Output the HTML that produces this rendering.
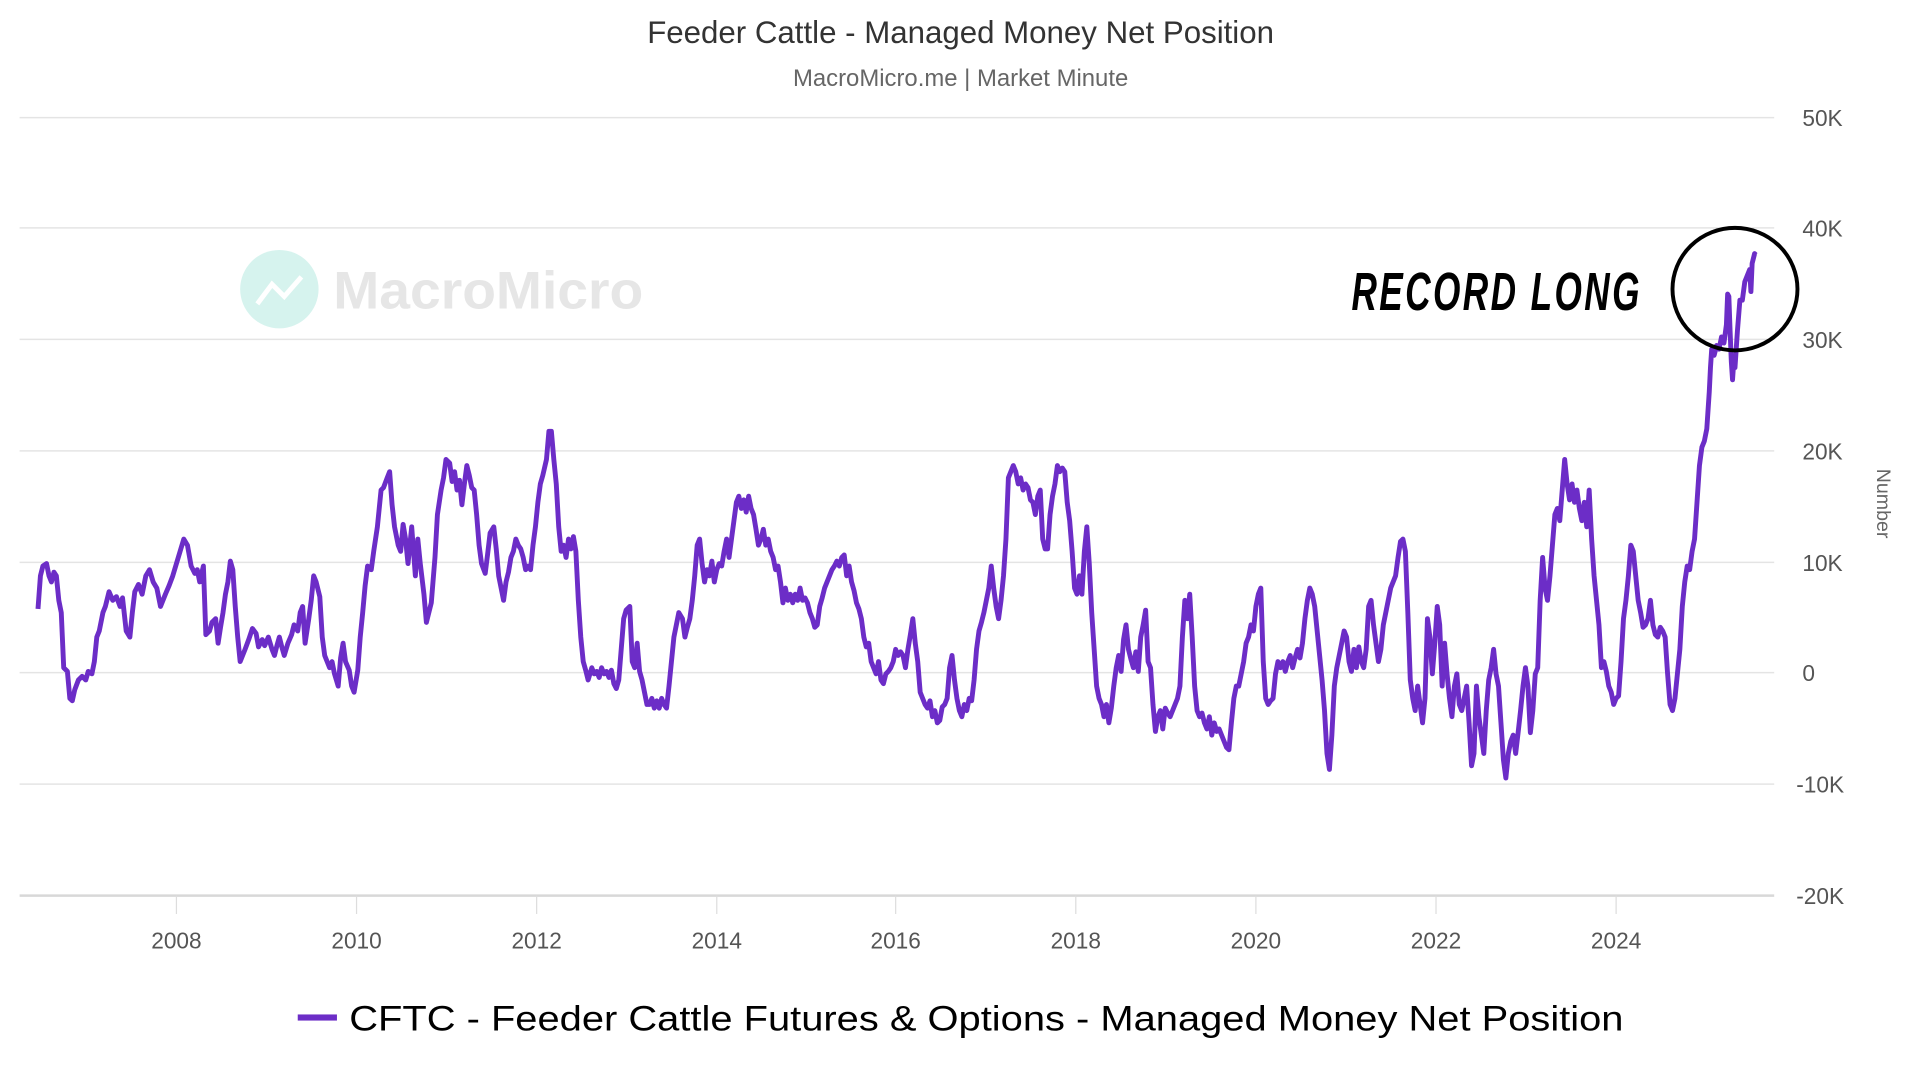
<!DOCTYPE html>
<html><head><meta charset="utf-8"><style>
html,body{margin:0;padding:0;background:#fff;}
svg{display:block;}
</style></head><body>
<svg width="1920" height="1080" viewBox="0 0 1567 881.5" preserveAspectRatio="none" xmlns="http://www.w3.org/2000/svg" font-family="Liberation Sans, sans-serif">
<text x="784" y="35" text-anchor="middle" font-size="25.5" fill="#333">Feeder Cattle - Managed Money Net Position</text>
<text x="784" y="70" text-anchor="middle" font-size="19.5" fill="#666">MacroMicro.me | Market Minute</text>
<g stroke="#e4e4e4" stroke-width="1.3">
<line x1="16" x2="1448" y1="96" y2="96"/><line x1="16" x2="1448" y1="186" y2="186"/>
<line x1="16" x2="1448" y1="277" y2="277"/><line x1="16" x2="1448" y1="368" y2="368"/>
<line x1="16" x2="1448" y1="459" y2="459"/><line x1="16" x2="1448" y1="549" y2="549"/>
<line x1="16" x2="1448" y1="640" y2="640"/>
</g>
<line x1="16" x2="1448" y1="731" y2="731" stroke="#d8d8d8" stroke-width="2"/>
<g stroke="#ddd" stroke-width="1">
<line x1="144" x2="144" y1="731" y2="746"/><line x1="291" x2="291" y1="731" y2="746"/><line x1="438" x2="438" y1="731" y2="746"/><line x1="585" x2="585" y1="731" y2="746"/><line x1="731" x2="731" y1="731" y2="746"/><line x1="878" x2="878" y1="731" y2="746"/><line x1="1025" x2="1025" y1="731" y2="746"/><line x1="1172" x2="1172" y1="731" y2="746"/><line x1="1319" x2="1319" y1="731" y2="746"/>
</g>
<g font-size="18.5" fill="#555" text-anchor="middle">
<text x="144" y="774">2008</text><text x="291" y="774">2010</text><text x="438" y="774">2012</text><text x="585" y="774">2014</text><text x="731" y="774">2016</text><text x="878" y="774">2018</text><text x="1025" y="774">2020</text><text x="1172" y="774">2022</text><text x="1319" y="774">2024</text>
</g>
<g font-size="18.5" fill="#555">
<text x="1471" y="103">50K</text><text x="1471" y="193">40K</text><text x="1471" y="284">30K</text><text x="1471" y="375">20K</text><text x="1471" y="466">10K</text><text x="1471" y="556">0</text><text x="1466" y="647">-10K</text><text x="1466" y="738">-20K</text>
</g>
<text transform="translate(1532,411) rotate(90)" text-anchor="middle" font-size="16" fill="#666">Number</text>
<circle cx="228" cy="236" r="32" fill="#d6f3ee"/>
<polyline points="210,248 222,232 232,242 246,226" fill="none" stroke="#fff" stroke-width="4"/>
<text x="272" y="252" font-size="43" font-weight="bold" fill="#e6e6e6" textLength="253" lengthAdjust="spacingAndGlyphs">MacroMicro</text>
<polyline fill="none" stroke="#6c2dc7" stroke-width="4" stroke-linejoin="round" points="31,497 33,470 35,462 38,460 40,470 42,475 44,467 46,470 48,490 50,500 52,545 55,548 57,570 59,572 61,563 64,555 67,552 70,555 72,548 75,550 77,540 79,520 81,515 84,500 86,495 89,483 92,490 95,487 98,495 100,488 103,515 106,520 108,500 110,483 113,477 116,485 119,470 122,465 125,475 128,480 131,495 133,490 135,485 138,478 141,470 144,460 147,450 150,440 153,445 156,462 159,468 161,465 163,475 166,462 168,518 171,515 173,508 176,505 178,525 180,512 182,500 184,485 186,475 188,458 190,465 192,495 194,520 196,540 198,535 200,530 203,522 206,513 209,517 211,528 214,522 216,527 219,520 222,530 224,535 226,527 228,520 230,528 232,535 235,525 238,518 240,510 243,515 245,500 247,495 249,525 252,505 254,490 256,470 258,475 261,487 263,520 265,535 267,540 269,545 271,540 273,550 276,560 278,537 280,525 282,540 285,547 287,560 289,565 292,547 294,520 296,500 298,478 300,462 303,465 305,450 308,430 311,400 313,398 316,390 318,385 320,412 322,430 325,445 327,450 329,428 331,440 333,460 336,430 339,470 341,440 343,460 346,485 348,508 350,500 352,492 355,455 357,420 360,400 362,390 364,375 367,378 369,393 371,385 373,400 375,392 377,412 379,395 381,380 383,388 385,398 387,400 389,420 391,445 393,460 396,468 398,452 400,435 403,430 405,448 407,470 409,480 411,490 413,475 415,467 417,455 419,450 421,440 423,445 425,448 427,455 429,465 431,462 433,465 435,445 437,430 439,410 441,395 443,388 446,375 448,352 450,352 452,375 454,395 456,430 458,450 460,445 462,455 464,440 466,448 468,438 470,450 472,490 474,520 476,540 478,547 480,555 483,545 485,550 487,548 489,553 491,545 493,550 495,548 497,553 499,547 501,558 503,562 505,555 507,530 509,505 511,498 514,495 516,540 518,545 520,525 522,548 524,555 526,565 528,575 530,575 532,570 534,578 536,572 538,578 540,570 542,575 544,578 546,560 548,540 550,520 552,510 554,500 557,505 559,520 561,512 563,505 565,490 567,470 569,445 571,440 573,460 575,475 577,465 579,470 581,458 583,475 585,465 587,460 589,462 591,450 593,440 595,455 597,440 599,425 601,410 603,405 605,415 607,408 609,418 611,405 613,415 615,420 617,432 619,445 621,440 623,432 625,445 627,440 629,450 631,455 633,465 635,462 637,475 639,492 641,480 643,490 645,485 647,492 649,485 651,490 653,480 655,490 657,488 659,492 661,500 663,505 665,512 667,510 669,495 671,488 673,480 675,475 677,470 679,465 681,462 683,458 685,462 687,455 689,453 691,470 693,462 695,475 697,482 699,492 701,497 703,505 705,520 707,528 709,525 711,540 713,545 715,550 717,540 719,555 721,558 723,550 725,548 727,545 729,540 731,530 733,535 735,532 737,535 739,545 741,530 743,518 745,505 747,525 749,540 751,565 753,570 755,575 757,578 759,572 761,585 763,580 765,590 767,588 769,577 771,575 773,570 775,545 777,535 779,555 781,570 783,580 785,585 787,575 789,580 791,570 793,572 795,555 797,530 799,515 801,508 803,500 805,490 807,480 809,462 811,480 813,495 815,505 817,490 819,470 821,440 823,390 825,385 827,380 829,385 831,395 833,390 835,400 837,395 839,398 841,408 843,410 845,420 847,405 849,400 851,440 853,448 855,448 857,420 859,405 861,395 863,380 865,385 867,382 869,385 871,410 873,425 875,450 877,480 879,485 881,470 883,485 885,450 887,430 889,460 891,500 893,530 895,560 897,570 899,575 901,585 903,575 905,590 907,578 909,560 911,545 913,535 915,548 917,522 919,510 921,530 923,538 925,545 927,532 929,548 931,520 933,510 935,498 937,540 939,545 941,575 943,597 945,585 947,580 949,595 951,578 953,582 955,585 957,580 959,575 961,570 963,560 965,520 967,490 969,505 971,485 973,520 975,560 977,580 979,585 981,582 983,590 985,595 987,585 989,600 991,590 993,597 995,595 997,600 999,605 1001,610 1003,612 1005,590 1007,570 1009,560 1011,560 1013,550 1015,540 1017,525 1019,520 1021,510 1023,515 1025,495 1027,485 1029,480 1031,540 1033,570 1035,575 1037,572 1039,570 1041,550 1043,540 1045,545 1047,540 1049,548 1051,540 1053,535 1055,545 1057,537 1059,530 1061,537 1063,525 1065,505 1067,490 1069,480 1071,485 1073,495 1075,515 1077,535 1079,555 1081,580 1083,615 1085,628 1087,600 1089,560 1091,545 1093,535 1095,525 1097,515 1099,520 1101,540 1103,548 1105,530 1107,545 1109,528 1111,540 1113,545 1115,530 1117,495 1119,490 1121,510 1123,525 1125,540 1127,530 1129,510 1131,500 1133,490 1135,480 1137,475 1139,470 1141,455 1143,442 1145,440 1147,450 1149,500 1151,555 1153,570 1155,580 1157,560 1159,575 1161,590 1163,570 1165,505 1167,520 1169,550 1171,525 1173,495 1175,510 1177,560 1179,525 1181,550 1183,570 1185,585 1187,560 1189,550 1191,575 1193,580 1195,570 1197,560 1199,590 1201,625 1203,615 1205,560 1207,585 1209,600 1211,615 1213,580 1215,555 1217,545 1219,530 1221,550 1223,560 1225,590 1227,620 1229,635 1231,615 1233,605 1235,600 1237,615 1239,598 1241,580 1243,560 1245,545 1247,560 1249,598 1251,580 1253,550 1255,545 1257,490 1259,455 1261,480 1263,490 1265,470 1267,445 1269,420 1271,415 1273,425 1275,400 1277,375 1279,395 1281,408 1283,395 1285,410 1287,400 1289,415 1291,425 1293,410 1295,430 1297,400 1299,440 1301,470 1303,490 1305,510 1307,545 1309,540 1311,548 1313,560 1315,565 1317,575 1319,570 1321,568 1323,540 1325,505 1327,490 1329,470 1331,445 1333,450 1335,470 1337,490 1339,500 1341,512 1343,510 1345,505 1347,490 1349,510 1351,518 1353,520 1355,512 1357,515 1359,520 1361,550 1363,575 1365,580 1367,570 1369,550 1371,530 1373,495 1375,475 1377,462 1379,465 1381,450 1383,440 1385,410 1387,380 1389,365 1391,360 1393,350 1395,320 1396,300 1397,285 1399,290 1401,282 1403,285 1405,275 1407,280 1409,265 1410,240 1411,242 1412,270 1413,295 1414,310 1415,295 1416,300 1418,270 1420,245 1422,245 1424,230 1426,225 1428,220 1429,238 1430,215 1432,207 1433,208"/>
<ellipse cx="1416" cy="236" rx="51" ry="50" fill="none" stroke="#000" stroke-width="3.2"/>
<text x="1103" y="253" font-size="44" font-weight="bold" font-style="italic" fill="#000" textLength="237" lengthAdjust="spacingAndGlyphs" letter-spacing="3">RECORD LONG</text>
<rect x="243" y="828" width="32" height="5" fill="#6c2dc7"/>
<text x="285" y="841" font-size="29" fill="#000" textLength="1040" lengthAdjust="spacingAndGlyphs">CFTC - Feeder Cattle Futures &amp; Options - Managed Money Net Position</text>
</svg>
</body></html>
